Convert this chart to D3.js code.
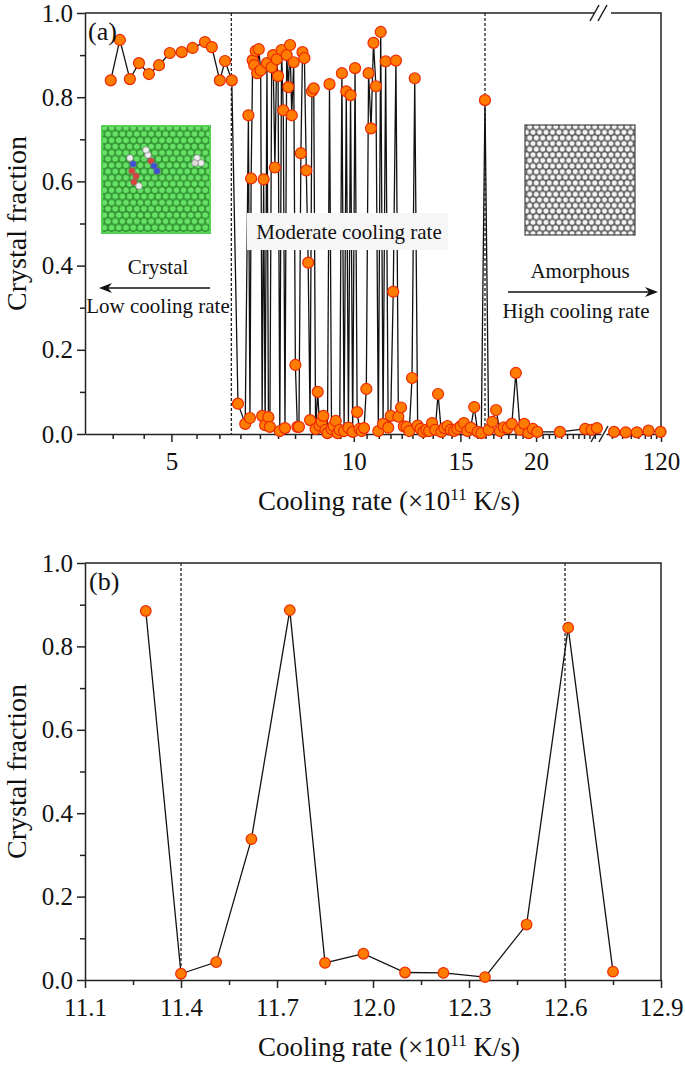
<!DOCTYPE html>
<html>
<head>
<meta charset="utf-8">
<script src="https://cdn.jsdelivr.net/npm/d3@7"></script>
<style>
  body { margin: 0; background: #fff; }
  text { font-family: "Liberation Serif", "Times New Roman", serif; fill: #111; }
</style>
</head>
<body>
<div id="chart"></div>
<script>
// ---- data (cooling rate in 1e11 K/s, crystal fraction) ----
// panel (a), first axis segment
const rateA = [3.97, 4.11, 4.27, 4.42, 4.59, 4.77, 4.97, 5.20, 5.42, 5.68, 5.83, 6.01, 6.13, 6.29,
  6.44, 6.62, 6.70, 6.74, 6.77, 6.81, 6.85, 6.89, 6.93, 6.97, 7.02, 7.06, 7.10, 7.14, 7.19, 7.23,
  7.27, 7.32, 7.36, 7.41, 7.46, 7.50, 7.55, 7.60, 7.65, 7.70, 7.75, 7.80, 7.85, 7.90, 7.96, 8.01,
  8.07, 8.12, 8.18, 8.23, 8.29, 8.35, 8.41, 8.47, 8.53, 8.59, 8.65, 8.72, 8.78, 8.85, 8.91, 8.98,
  9.05, 9.12, 9.19, 9.26, 9.34, 9.41, 9.48, 9.56, 9.64, 9.72, 9.80, 9.88, 9.96, 10.05, 10.13, 10.22,
  10.31, 10.40, 10.49, 10.58, 10.68, 10.78, 10.88, 10.98, 11.08, 11.18, 11.29, 11.40, 11.51, 11.62,
  11.74, 11.85, 11.97, 12.10, 12.22, 12.35, 12.48, 12.61, 12.75, 12.89, 13.03, 13.17, 13.32, 13.47,
  13.63, 13.78, 13.95, 14.11, 14.28, 14.46, 14.64, 14.82, 15.01, 15.20, 15.40, 15.60, 15.81, 16.02,
  16.24, 16.47, 16.70, 16.94, 17.18, 17.43, 17.69, 17.96, 18.24, 18.52, 18.82, 19.12, 19.43, 19.76,
  20.09, 21.9, 24.1, 24.7, 25.2];
const fracA = [0.840, 0.936, 0.843, 0.881, 0.855, 0.876, 0.905, 0.907, 0.917, 0.931, 0.919, 0.840, 0.886, 0.840,
  0.072, 0.024, 0.757, 0.038, 0.607, 0.888, 0.876, 0.910, 0.857, 0.914, 0.864, 0.043, 0.605, 0.021, 0.881, 0.040,
  0.017, 0.871, 0.900, 0.633, 0.890, 0.850, 0.007, 0.912, 0.769, 0.014, 0.900, 0.824, 0.924, 0.757, 0.883, 0.164,
  0.017, 0.017, 0.667, 0.907, 0.893, 0.626, 0.407, 0.033, 0.814, 0.821, 0.012, 0.100, 0.020, 0.029, 0.043, 0.010,
  0.002, 0.831, 0.012, 0.019, 0.031, 0.002, 0.010, 0.857, 0.007, 0.814, 0.015, 0.805, 0.005, 0.869, 0.052, 0.012,
  0.007, 0.014, 0.107, 0.857, 0.726, 0.929, 0.826, 0.007, 0.955, 0.024, 0.885, 0.015, 0.043, 0.338,
  0.887, 0.041, 0.063, 0.018, 0.017, 0.007, 0.133, 0.845, 0.020, 0.012, 0.005, 0.010, 0.007, 0.026,
  0.010, 0.095, 0.005, 0.014, 0.019, 0.010, 0.007, 0.012, 0.018, 0.026, 0.007, 0.015, 0.064, 0.005,
  0.002, 0.793, 0.010, 0.029, 0.057, 0.007, 0.016, 0.014, 0.024, 0.145, 0.010, 0.024, 0.002, 0.012,
  0.005, 0.005, 0.012, 0.010, 0.014];
// panel (a), second axis segment (after the break)
const rateA2 = [52, 64, 78, 96, 119];
const fracA2 = [0.005, 0.004, 0.004, 0.008, 0.005];
// panel (b)
const rateB = [11.29, 11.40, 11.51, 11.62, 11.74, 11.85, 11.97, 12.10, 12.22, 12.35, 12.48, 12.61, 12.75];
const fracB = [0.885, 0.015, 0.043, 0.338, 0.887, 0.041, 0.063, 0.018, 0.017, 0.007, 0.133, 0.845, 0.020];

const yTicks = [0, 0.2, 0.4, 0.6, 0.8, 1.0];
const xTicksA = [5, 10, 15, 20];
const xTicksA2 = [120];
const xTicksB = [11.1, 11.4, 11.7, 12.0, 12.3, 12.6, 12.9];
const markA = [6.28, 16.47];
const markB = [11.4, 12.6];

const W = 685, H = 1070;
const L = 85, R = 661;
const svg = d3.select("#chart").append("svg").attr("width", W).attr("height", H);

// atom-lattice fills for the two snapshots
const defs = svg.append("defs");
function lattice(id, s, r, bg, fill, stroke) {
  const h = s * Math.sqrt(3);
  const p = defs.append("pattern").attr("id", id).attr("patternUnits", "userSpaceOnUse")
    .attr("width", s).attr("height", h);
  p.append("rect").attr("width", s).attr("height", h).attr("fill", bg);
  [[s / 2, h / 4], [0, 3 * h / 4], [s, 3 * h / 4]].forEach(([cx, cy]) => {
    p.append("circle").attr("cx", cx).attr("cy", cy).attr("r", r)
      .attr("fill", fill).attr("stroke", stroke).attr("stroke-width", 0.8);
  });
}
lattice("greenAtoms", 7.2, 3.3, "#2c8c2c", "#66e266", "#2f8f2f");
lattice("grayAtoms", 6.5, 2.9, "#4a4a4a", "#f6f6f6", "#6e6e6e");

function marker(sel, r) {
  sel.attr("r", r).attr("fill", "#ff7c00").attr("stroke", "#ec2a05").attr("stroke-width", 1.2);
}

function yAxis(g, y, x0) {
  g.append("g").attr("transform", `translate(${x0},0)`)
    .call(d3.axisLeft(y).tickValues(yTicks).tickFormat(d3.format(".1f")).tickSize(8).tickSizeOuter(0).tickPadding(4))
    .call(a => a.selectAll("text").attr("font-size", 25).attr("font-family", "Liberation Serif"));
  g.append("g").attr("transform", `translate(${x0},0)`)
    .call(d3.axisLeft(y).tickValues([0.1, 0.3, 0.5, 0.7, 0.9]).tickFormat("").tickSize(5).tickSizeOuter(0))
    .call(a => a.select(".domain").remove());
}

function styleAxes(g) {
  g.selectAll(".domain, .tick line").attr("stroke", "#222").attr("stroke-width", 1.5);
  g.selectAll(".tick text").attr("fill", "#111");
}

function xTitle(g, yBase) {
  const t = g.append("text").attr("x", 389).attr("y", yBase).attr("text-anchor", "middle").attr("font-size", 27);
  t.append("tspan").text("Cooling rate (\u00d710");
  t.append("tspan").attr("font-size", 17).attr("dy", -10).text("11");
  t.append("tspan").attr("dy", 10).text(" K/s)");
}

function yTitle(g, cy) {
  g.append("text").attr("transform", `translate(26,${cy}) rotate(-90)`)
    .attr("text-anchor", "middle").attr("font-size", 28).text("Crystal fraction");
}

// ================= panel (a) =================
const ga = svg.append("g");
const topA = 13, botA = 434;
const ya = d3.scaleLinear().domain([0, 1]).range([botA, topA]);
const xa = d3.scaleLog().domain([3.6, 25.6]).range([L, 601]);
const xa2 = d3.scaleLog().domain([45, 120]).range([606, R]);

// insets
ga.append("rect").attr("x", 102).attr("y", 126).attr("width", 108).attr("height", 107)
  .attr("fill", "url(#greenAtoms)").attr("stroke", "#55d055").attr("stroke-width", 2);
const atoms = [[130, 158, "#eeeeee"], [133, 164, "#3d4fd6"], [132, 171, "#d9433a"], [136, 176, "#d9433a"],
  [134, 182, "#d9433a"], [139, 186, "#eeeeee"], [148, 155, "#eeeeee"], [151, 161, "#d9433a"], [154, 166, "#3d4fd6"],
  [157, 171, "#3d4fd6"], [146, 150, "#eeeeee"], [197, 158, "#eeeeee"], [201, 163, "#eeeeee"], [195, 163, "#dddddd"]];
ga.selectAll("circle.atom").data(atoms).join("circle").attr("class", "atom")
  .attr("cx", d => d[0]).attr("cy", d => d[1]).attr("r", 3.3).attr("fill", d => d[2]).attr("stroke", "#777").attr("stroke-width", 0.6);
ga.append("rect").attr("x", 525).attr("y", 125).attr("width", 110).attr("height", 110)
  .attr("fill", "url(#grayAtoms)").attr("stroke", "#444").attr("stroke-width", 1.2);

// axes
yAxis(ga, ya, L);
ga.append("g").attr("transform", `translate(0,${botA})`)
  .call(d3.axisBottom(xa).tickValues(xTicksA).tickFormat(d3.format("d")).tickSize(8).tickSizeOuter(0).tickPadding(10))
  .call(a => a.selectAll("text").attr("font-size", 25).attr("font-family", "Liberation Serif"));
ga.append("g").attr("transform", `translate(0,${botA})`)
  .call(d3.axisBottom(xa).tickValues(d3.range(4, 25.5, 0.5).filter(v => !xTicksA.includes(v))).tickFormat("").tickSize(5).tickSizeOuter(0))
  .call(a => a.select(".domain").remove());
ga.append("g").attr("transform", `translate(0,${botA})`)
  .call(d3.axisBottom(xa2).tickValues(xTicksA2).tickFormat(d3.format("d")).tickSize(8).tickSizeOuter(0).tickPadding(10))
  .call(a => a.selectAll("text").attr("font-size", 25).attr("font-family", "Liberation Serif"));
ga.append("g").attr("transform", `translate(0,${botA})`)
  .call(d3.axisBottom(xa2).tickValues(d3.range(50, 120, 10)).tickFormat("").tickSize(5).tickSizeOuter(0))
  .call(a => a.select(".domain").remove());
styleAxes(ga);

// frame (top with break, right)
ga.append("path").attr("d", `M${L},${topA}H595M611,${topA}H${R}V${botA}`)
  .attr("fill", "none").attr("stroke", "#222").attr("stroke-width", 1.5);
[[topA, 593], [topA, 601], [botA, 594], [botA, 602]].forEach(([yy, xx]) => {
  ga.append("line").attr("x1", xx - 3).attr("y1", yy + 8).attr("x2", xx + 6).attr("y2", yy - 8)
    .attr("stroke", "#222").attr("stroke-width", 1.5);
});

// dashed guides
ga.selectAll("line.guide").data(markA).join("line").attr("class", "guide")
  .attr("x1", d => xa(d)).attr("x2", d => xa(d)).attr("y1", topA).attr("y2", botA)
  .attr("stroke", "#222").attr("stroke-width", 1.3).attr("stroke-dasharray", "3,2");

// data lines
const ptsA = d3.zip(rateA, fracA);
const ptsA2 = d3.zip(rateA2, fracA2);
ga.append("path").datum(ptsA).attr("fill", "none").attr("stroke", "#111").attr("stroke-width", 1.3)
  .attr("d", d3.line().x(d => xa(d[0])).y(d => ya(d[1])));
ga.append("path").datum(ptsA2).attr("fill", "none").attr("stroke", "#111").attr("stroke-width", 1.3)
  .attr("d", d3.line().x(d => xa2(d[0])).y(d => ya(d[1])));

// label box over lines
ga.append("rect").attr("x", 247).attr("y", 213).attr("width", 201).attr("height", 37).attr("fill", "#f6f6f6");
ga.append("text").attr("x", 349).attr("y", 239).attr("text-anchor", "middle").attr("font-size", 21).text("Moderate cooling rate");

// points
ga.selectAll("circle.pa").data(ptsA).join("circle").attr("class", "pa")
  .attr("cx", d => xa(d[0])).attr("cy", d => ya(d[1])).call(marker, 5.5);
ga.selectAll("circle.pa2").data(ptsA2).join("circle").attr("class", "pa2")
  .attr("cx", d => xa2(d[0])).attr("cy", d => ya(d[1])).call(marker, 5.5);

// annotations
const arrowHead = (x, y, dir) => `M${x},${y}L${x - dir * 13},${y - 5}L${x - dir * 9},${y}L${x - dir * 13},${y + 5}Z`;
ga.append("text").attr("x", 158).attr("y", 274).attr("text-anchor", "middle").attr("font-size", 21).text("Crystal");
ga.append("line").attr("x1", 210).attr("x2", 104).attr("y1", 288).attr("y2", 288).attr("stroke", "#111").attr("stroke-width", 1.5);
ga.append("path").attr("d", arrowHead(99, 288, -1)).attr("fill", "#111");
ga.append("text").attr("x", 158).attr("y", 313).attr("text-anchor", "middle").attr("font-size", 21).text("Low cooling rate");
ga.append("text").attr("x", 580).attr("y", 278).attr("text-anchor", "middle").attr("font-size", 21).text("Amorphous");
ga.append("line").attr("x1", 508).attr("x2", 652).attr("y1", 292).attr("y2", 292).attr("stroke", "#111").attr("stroke-width", 1.5);
ga.append("path").attr("d", arrowHead(658, 292, 1)).attr("fill", "#111");
ga.append("text").attr("x", 576).attr("y", 318).attr("text-anchor", "middle").attr("font-size", 21).text("High cooling rate");
ga.append("text").attr("x", 88).attr("y", 40).attr("font-size", 26).text("(a)");

yTitle(ga, (topA + botA) / 2);
xTitle(ga, botA + 76);

// ================= panel (b) =================
const gb = svg.append("g");
const topB = 563, botB = 980;
const yb = d3.scaleLinear().domain([0, 1]).range([botB, topB]);
const xb = d3.scaleLinear().domain([11.1, 12.9]).range([L, R]);

yAxis(gb, yb, L);
gb.append("g").attr("transform", `translate(0,${botB})`)
  .call(d3.axisBottom(xb).tickValues(xTicksB).tickFormat(d3.format(".1f")).tickSize(8).tickSizeOuter(0).tickPadding(10))
  .call(a => a.selectAll("text").attr("font-size", 25).attr("font-family", "Liberation Serif"));
gb.append("g").attr("transform", `translate(0,${botB})`)
  .call(d3.axisBottom(xb).tickValues(d3.range(11.25, 12.9, 0.3)).tickFormat("").tickSize(5).tickSizeOuter(0))
  .call(a => a.select(".domain").remove());
styleAxes(gb);
gb.append("path").attr("d", `M${L},${topB}H${R}V${botB}`)
  .attr("fill", "none").attr("stroke", "#222").attr("stroke-width", 1.5);

gb.selectAll("line.guide").data(markB).join("line").attr("class", "guide")
  .attr("x1", d => xb(d)).attr("x2", d => xb(d)).attr("y1", topB).attr("y2", botB)
  .attr("stroke", "#222").attr("stroke-width", 1.3).attr("stroke-dasharray", "3,2");

const ptsB = d3.zip(rateB, fracB);
gb.append("path").datum(ptsB).attr("fill", "none").attr("stroke", "#111").attr("stroke-width", 1.3)
  .attr("d", d3.line().x(d => xb(d[0])).y(d => yb(d[1])));
gb.selectAll("circle.pb").data(ptsB).join("circle").attr("class", "pb")
  .attr("cx", d => xb(d[0])).attr("cy", d => yb(d[1])).call(marker, 5.3);

gb.append("text").attr("x", 89).attr("y", 590).attr("font-size", 26).text("(b)");
yTitle(gb, (topB + botB) / 2);
xTitle(gb, botB + 76);
</script>
</body>
</html>
